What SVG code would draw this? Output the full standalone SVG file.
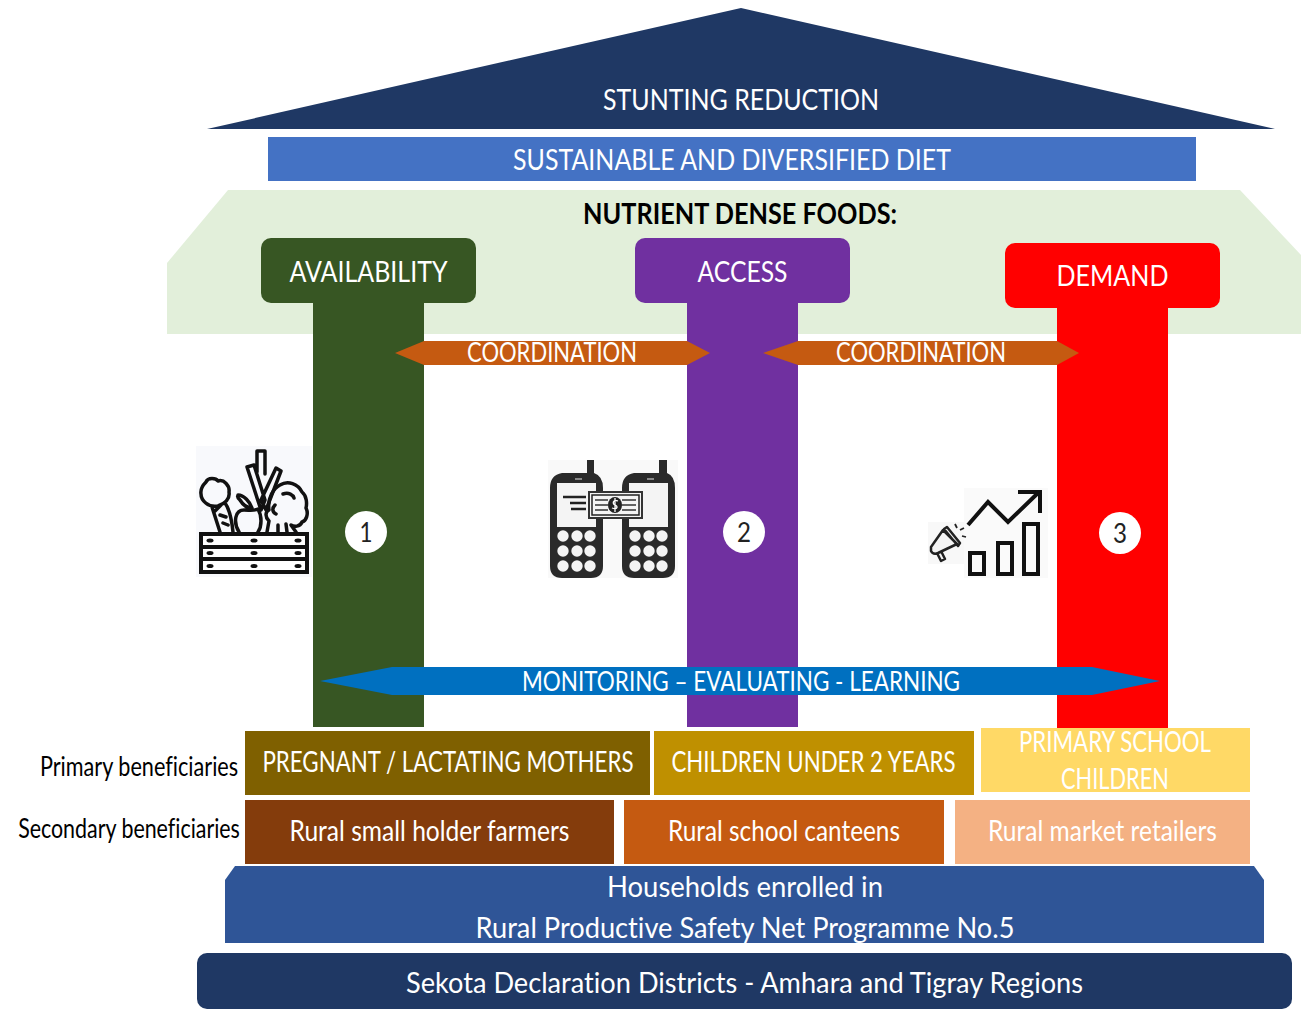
<svg xmlns="http://www.w3.org/2000/svg" width="1306" height="1009" viewBox="0 0 1306 1009">
<style>
text{font-family:Lato,"Liberation Sans",sans-serif;fill:#fff;text-anchor:middle;font-size:29px;font-variant-ligatures:none}
.k{fill:#000}
.ink{fill:none;stroke:#111;stroke-width:3.5;stroke-linejoin:round;stroke-linecap:round}
.blk{fill:#2a2a2a}
.w{fill:#f4f4f4}
.num{fill:#222;font-size:27px}
</style>
<rect width="1306" height="1009" fill="#fff"/>
<g id="roof"><polygon points="207,129 741,8 1275,129" fill="#1F3864"/><text x="741" y="110" textLength="276" lengthAdjust="spacingAndGlyphs">STUNTING REDUCTION</text></g>
<g id="diet"><rect x="268" y="137" width="928" height="44" fill="#4472C4"/><text x="732" y="170" textLength="438" lengthAdjust="spacingAndGlyphs">SUSTAINABLE AND DIVERSIFIED DIET</text></g>
<g id="nutrient"><polygon points="167,334 167,263 228,190 1240,190 1301,255 1301,334" fill="#E2EFDA"/><text class="k" x="740" y="224" font-weight="700" textLength="314" lengthAdjust="spacingAndGlyphs">NUTRIENT DENSE FOODS:</text></g>
<g id="availability"><rect x="313" y="295" width="111" height="432" fill="#375623"/><rect x="261" y="238" width="215" height="65" rx="10" fill="#375623"/><text x="368.500" y="282" textLength="158" lengthAdjust="spacingAndGlyphs">AVAILABILITY</text><circle cx="366" cy="532" r="21" fill="#fff"/><text class="num" x="366" y="542" textLength="13" lengthAdjust="spacingAndGlyphs">1</text></g>
<g id="access"><rect x="687" y="295" width="111" height="432" fill="#7030A0"/><rect x="635" y="238" width="215" height="65" rx="10" fill="#7030A0"/><text x="742.500" y="282" textLength="90" lengthAdjust="spacingAndGlyphs">ACCESS</text><circle cx="744" cy="532" r="21" fill="#fff"/><text class="num" x="744" y="542" textLength="14" lengthAdjust="spacingAndGlyphs">2</text></g>
<g id="demand"><rect x="1057" y="300" width="111" height="428" fill="#FF0000"/><rect x="1005" y="243" width="215" height="65" rx="10" fill="#FF0000"/><text x="1112.500" y="286" textLength="112" lengthAdjust="spacingAndGlyphs">DEMAND</text><circle cx="1120" cy="533" r="21" fill="#fff"/><text class="num" x="1120" y="543" textLength="14" lengthAdjust="spacingAndGlyphs">3</text></g>
<g id="connectors">
<polygon points="395,353 424,341 687,341 710,353 687,365 424,365" fill="#C55A11"/>
<polygon points="763,353 798,341 1057,341 1079,353 1057,365 798,365" fill="#C55A11"/>
<polygon points="320,681 392,667 1092,667 1160,681 1092,695 392,695" fill="#0070C0"/>
<text x="552" y="362" style="font-size:27px" textLength="170" lengthAdjust="spacingAndGlyphs">COORDINATION</text>
<text x="921" y="362" style="font-size:27px" textLength="170" lengthAdjust="spacingAndGlyphs">COORDINATION</text>
<text x="741" y="691" style="font-size:27px" textLength="438" lengthAdjust="spacingAndGlyphs">MONITORING – EVALUATING - LEARNING</text>
</g>
<g id="icon-food">
<rect x="196" y="446" width="116" height="131" fill="#f8f9fc"/>
<path class="ink" d="M257 472V451H265V474M247 467L254 465L265 500L261 510ZM276 468L281 471L266 510L261 500Z" fill="#f8f9fc"/>
<path class="ink" d="M218 506C208 508 201 500 201 494C200 488 204 484 206 482C208 477 216 478 218 481C224 479 230 486 229 492C230 498 226 503 218 506ZM212 507L220 532M233 532C232 522 230 510 225 503M214 512L221 505M220 515L226 517M223 523L228 525"/>
<path class="ink" d="M240 500C236 496 238 497 238 495C244 495 250 502 252 508C247 508 243 505 240 500ZM239 532C233 522 235 510 244 510C250 510 254 511 258 509C262 516 262 526 258 532"/>
<path class="ink" d="M267 532L269 521C265 517 265 512 269 510C267 498 274 488 280 485C288 480 298 484 302 492C307 496 307 504 306 508C309 514 306 521 302 522C300 527 294 527 291 525L296 532M278 532V525M287 532L286 524"/>
<path d="M283 494C289 492 293 495 294 498M275 505C272 508 272 512 276 514" class="ink"/>
<rect x="201" y="534" width="106" height="38" fill="#fff" stroke="#111" stroke-width="4"/>
<path d="M201 547H307M201 559H307" stroke="#111" stroke-width="4" fill="none"/>
<g fill="#111"><ellipse cx="210" cy="540.500" rx="3.500" ry="2"/><ellipse cx="254" cy="540.500" rx="3.500" ry="2"/><ellipse cx="298" cy="540.500" rx="3.500" ry="2"/><ellipse cx="210" cy="553" rx="3.500" ry="2"/><ellipse cx="254" cy="553" rx="3.500" ry="2"/><ellipse cx="298" cy="553" rx="3.500" ry="2"/><ellipse cx="210" cy="566" rx="3.500" ry="2"/><ellipse cx="254" cy="566" rx="3.500" ry="2"/><ellipse cx="298" cy="566" rx="3.500" ry="2"/></g>
</g>
<g id="icon-phones">
<rect x="548" y="460" width="130" height="118" fill="#f9f9f9"/>
<g id="phone-left">
<path class="blk" d="M587 460H594V473Q603 476 603 488V566Q603 578 591 578H562Q550 578 550 566V488Q550 475 562 473H587Z"/>
<rect class="w" x="557" y="483" width="39" height="44"/>
<rect x="575" y="478" width="7" height="2" fill="#888"/>
<g class="w"><circle cx="563" cy="536" r="5.700"/><circle cx="577" cy="536" r="5.700"/><circle cx="590" cy="536" r="5.700"/><circle cx="563" cy="551" r="5.700"/><circle cx="577" cy="551" r="5.700"/><circle cx="590" cy="551" r="5.700"/><circle cx="563" cy="566" r="5.700"/><circle cx="577" cy="566" r="5.700"/><circle cx="590" cy="566" r="5.700"/></g>
</g>
<g id="phone-right">
<path class="blk" d="M659 460H667V473Q675 476 675 488V566Q675 578 663 578H634Q622 578 622 566V488Q622 475 634 473H659Z"/>
<rect class="w" x="629" y="483" width="39" height="44"/>
<rect x="647" y="478" width="7" height="2" fill="#888"/>
<g class="w"><circle cx="635" cy="536" r="5.700"/><circle cx="649" cy="536" r="5.700"/><circle cx="662" cy="536" r="5.700"/><circle cx="635" cy="551" r="5.700"/><circle cx="649" cy="551" r="5.700"/><circle cx="662" cy="551" r="5.700"/><circle cx="635" cy="566" r="5.700"/><circle cx="649" cy="566" r="5.700"/><circle cx="662" cy="566" r="5.700"/></g>
</g>
<path d="M563 497H586M570 503H586M571 509H586" stroke="#222" stroke-width="2.500" fill="none"/>
<rect x="589" y="492" width="53" height="26" fill="#f4f4f4" stroke="#333" stroke-width="2"/>
<rect x="592" y="495" width="47" height="20" fill="none" stroke="#222" stroke-width="1.500"/>
<ellipse cx="615" cy="505" rx="7" ry="8" fill="#222"/>
<path d="M595 500H608M595 505H608M595 510H608M622 500H636M622 505H636M622 510H636" stroke="#333" stroke-width="1.500" fill="none"/>
<path d="M618 501C613 499 612 504 615 505C618 506 618 510 612 508M615 498V512" stroke="#fff" stroke-width="1.300" fill="none"/>
</g>
<g id="icon-demand">
<rect x="964" y="488" width="84" height="90" fill="#fafafa"/>
<rect x="928" y="522" width="36" height="42" fill="#f8f8f8"/>
<path d="M968 525L988 502L1008 522L1038 493M1018 492H1040V513" fill="none" stroke="#111" stroke-width="4"/>
<rect x="970" y="553" width="14" height="21" fill="none" stroke="#111" stroke-width="4"/>
<rect x="998" y="543" width="14" height="31" fill="none" stroke="#111" stroke-width="4"/>
<rect x="1024" y="524" width="14" height="50" fill="none" stroke="#111" stroke-width="4"/>
<path d="M931 547L943 530L957 544L938 553Q933 555 931 551ZM944 529L958 546L960 543L947 527ZM937 553L941 561L945 559L941 551" fill="#f4f4f4" stroke="#222" stroke-width="2.500" stroke-linejoin="round"/>
<path d="M955 524L957 528M960 530L964 528M962 536L966 537" stroke="#222" stroke-width="1.800" fill="none"/>
</g>
<g id="primary-label"><text class="k" transform="translate(139 776) scale(.84 1)" style="font-size:26px" textLength="236" lengthAdjust="spacingAndGlyphs">Primary beneficiaries</text></g>
<g id="secondary-label"><text class="k" transform="translate(129 838) scale(.84 1)" style="font-size:26px" textLength="264" lengthAdjust="spacingAndGlyphs">Secondary beneficiaries</text></g>
<g id="mothers"><rect x="245" y="731" width="405" height="64" fill="#7F6000"/><text transform="translate(448 772) scale(.8 1)" textLength="464" lengthAdjust="spacingAndGlyphs">PREGNANT / LACTATING MOTHERS</text></g>
<g id="children"><rect x="654" y="731" width="320" height="64" fill="#BF9000"/><text transform="translate(813.500 772) scale(.88 1)" textLength="323" lengthAdjust="spacingAndGlyphs">CHILDREN UNDER 2 YEARS</text></g>
<g id="school"><rect x="981" y="728" width="269" height="64" fill="#FFD966"/><text x="1115" y="752" textLength="192" lengthAdjust="spacingAndGlyphs">PRIMARY SCHOOL</text><text x="1115" y="789" textLength="108" lengthAdjust="spacingAndGlyphs">CHILDREN</text></g>
<g id="farmers"><rect x="245" y="800" width="369" height="64" fill="#843C0C"/><text x="429.500" y="841" textLength="280" lengthAdjust="spacingAndGlyphs">Rural small holder farmers</text></g>
<g id="canteens"><rect x="624" y="800" width="320" height="64" fill="#C55A11"/><text x="784" y="841" textLength="232" lengthAdjust="spacingAndGlyphs">Rural school canteens</text></g>
<g id="retailers"><rect x="955" y="800" width="295" height="64" fill="#F4B183"/><text x="1102.500" y="841" textLength="229" lengthAdjust="spacingAndGlyphs">Rural market retailers</text></g>
<g id="households"><polygon points="235,866 1254,866 1264,880 1264,943 225,943 225,880" fill="#2F5597"/><text x="745" y="897" textLength="276" lengthAdjust="spacingAndGlyphs">Households enrolled in</text><text x="745" y="938" textLength="539" lengthAdjust="spacingAndGlyphs">Rural Productive Safety Net Programme No.5</text></g>
<g id="districts"><rect x="197" y="953" width="1095" height="56" rx="10" fill="#1F3864"/><text x="744.500" y="993" textLength="677" lengthAdjust="spacingAndGlyphs">Sekota Declaration Districts - Amhara and Tigray Regions</text></g>
</svg>
